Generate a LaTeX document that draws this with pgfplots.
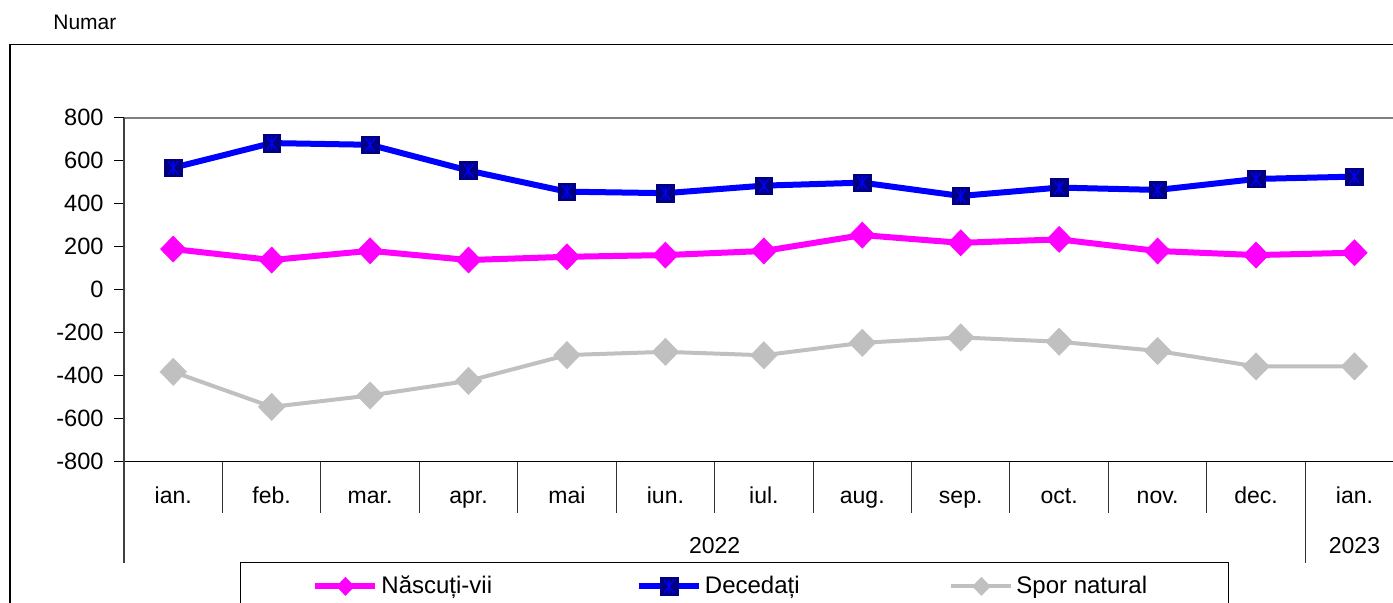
\documentclass[border=0pt]{standalone}
\usepackage{fontspec}
\setmainfont{Liberation Sans}
\usepackage{pgfplots}
\usepackage{pgfplotstable}
\pgfplotsset{compat=1.18}
\definecolor{cMag}{RGB}{255,0,255}
\definecolor{cBlue}{RGB}{0,0,255}
\definecolor{cNavy}{RGB}{0,0,128}
\definecolor{cGray}{RGB}{192,192,192}
\definecolor{cAx}{RGB}{128,128,128}
\pgfdeclareplotmark{sqast}{%
 \pgfpathrectangle{\pgfpoint{-\pgfplotmarksize}{-\pgfplotmarksize}}{\pgfpoint{2\pgfplotmarksize}{2\pgfplotmarksize}}%
 \pgfsetfillcolor{cNavy}\pgfsetstrokecolor{cNavy}\pgfsetlinewidth{0.3pt}\pgfusepathqfillstroke
 \pgfsetstrokecolor{cBlue}\pgfsetlinewidth{0.6pt}%
 \pgfpathmoveto{\pgfpoint{0pt}{-0.75\pgfplotmarksize}}\pgfpathlineto{\pgfpoint{0pt}{0.75\pgfplotmarksize}}%
 \pgfpathmoveto{\pgfpoint{-0.55\pgfplotmarksize}{-0.75\pgfplotmarksize}}\pgfpathlineto{\pgfpoint{0.55\pgfplotmarksize}{0.75\pgfplotmarksize}}%
 \pgfpathmoveto{\pgfpoint{-0.55\pgfplotmarksize}{0.75\pgfplotmarksize}}\pgfpathlineto{\pgfpoint{0.55\pgfplotmarksize}{-0.75\pgfplotmarksize}}%
 \pgfusepathqstroke
}
\pgfplotstableread{
x n d s
0 189 567 -382
1 138 682 -545
2 181 674 -492
3 138 554 -424
4 153 456 -304
5 161 449 -289
6 180 484 -305
7 254 498 -247
8 218 436 -222
9 234 475 -242
10 180 464 -285
11 161 515 -357
12 172 526 -357
}\data
\begin{document}
\begin{tikzpicture}
\path[use as bounding box] (0,0) rectangle (696.5pt,-301.5pt);
\begin{scope}
\clip (0,0) rectangle (696.5pt,-301.5pt);
\begin{axis}[
  at={(62pt,-230.85pt)}, anchor=south west,
  width=639.85pt, height=172pt, scale only axis,
  xmin=-0.5, xmax=12.5, ymin=-800, ymax=800,
  axis line style={draw=none},
  xtick={0,...,12},
  xticklabels={ian.,feb.,mar.,apr.,mai,iun.,iul.,aug.,sep.,oct.,nov.,dec.,ian.},
  xtick align=inside,
  xtick style={draw=none},
  xticklabel style={anchor=base, inner sep=0pt, yshift=-20.8pt, font=\fontsize{11.5}{13}\selectfont},
  extra x ticks={5.5,12},
  extra x tick labels={2022,2023},
  extra x tick style={xtick style={draw=none}, xticklabel style={yshift=-25pt}},
  ytick={-800,-600,...,800},
  yticklabels={-800,-600,-400,-200,0,200,400,600,800},
  ytick align=outside,
  ytick style={black, line width=0.5pt},
  major tick length=5pt,
  yticklabel style={anchor=east, inner sep=0pt, xshift=-5pt, font=\fontsize{11.8}{13}\selectfont},
  clip=false,
  legend columns=3,
  legend style={at={(0.0906,-0.2916)}, anchor=north west, draw=black, line width=0.5pt,
    inner xsep=36pt, inner ysep=6.75pt, font=\fontsize{12}{14}\selectfont, nodes={inner sep=0pt},
    /tikz/every odd column/.append style={column sep=1.5pt},
    /tikz/every even column/.append style={column sep=57.25pt}},
  legend cell align=left,
  legend image code/.code={\draw[mark repeat=2,mark phase=2,#1,mark size=4.5pt] plot coordinates {(0pt,0pt) (15pt,0pt) (30pt,0pt)};},
]
\addplot[cMag, line width=3pt, mark=diamond*, mark size=6.5pt, mark options={solid, fill=cMag, draw=cMag, line width=0.3pt, xscale=1.3}] table[x=x,y=n]{\data};
\addlegendentry{\makebox[70pt][l]{Născuți-vii}}
\addplot[cBlue, line width=3pt, mark=sqast, mark size=4.4pt] table[x=x,y=d]{\data};
\addlegendentry{\makebox[65pt][l]{Decedați}}
\addplot[cGray, line width=2pt, mark=diamond*, mark size=6.8pt, mark options={solid, fill=cGray, draw=cGray, line width=0.3pt, xscale=1.3}] table[x=x,y=s]{\data};
\addlegendentry{\makebox[70pt][l]{Spor natural}}
\end{axis}
\begin{scope}[x=0.5pt,y=-0.5pt]
 \draw[line width=0.8pt] (10,44.7) rectangle (1500,700);
 \draw[cAx, line width=1pt] (124,117.7) -- (1400,117.7);
 \draw[black, line width=0.7pt] (124,461.7) -- (1400,461.7);
 \draw[black!75, line width=0.7pt] (124,117.7) -- (124,563);
 \foreach \k in {1,...,11} \draw[black!80, line width=0.5pt] ({124+\k*98.44},461.7) -- ({124+\k*98.44},512.7);
 \draw[black!80,line width=0.5pt] (1305.3,461.7) -- (1305.3,563);
 \node[anchor=base west, inner sep=0pt, font=\fontsize{10.5}{12}\selectfont] at (53,30) {Numar};
\end{scope}
\end{scope}
\end{tikzpicture}
\end{document}
